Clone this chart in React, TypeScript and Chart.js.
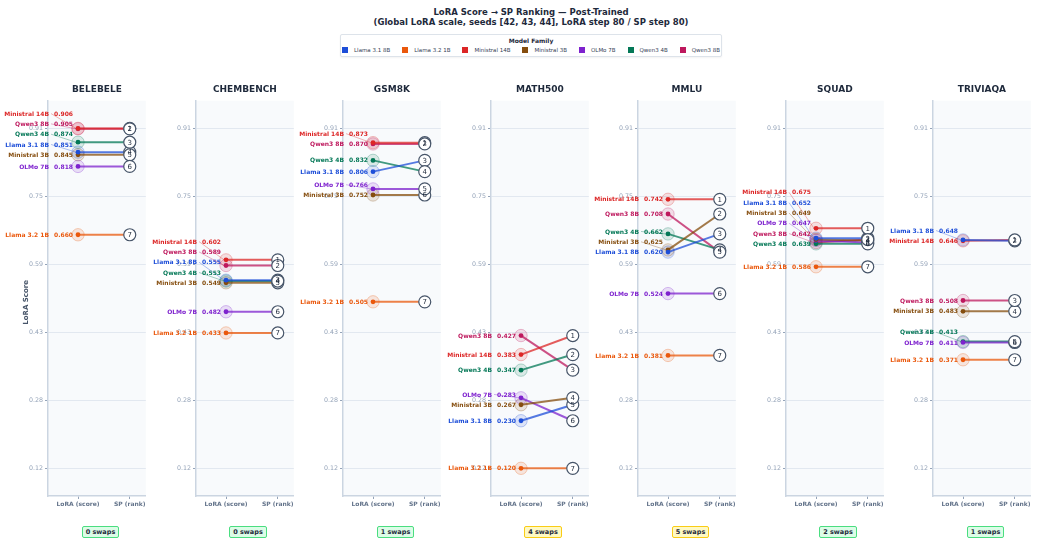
import React, { useEffect, useRef } from 'react';
import { Chart, registerables } from 'chart.js';

Chart.register(...registerables);
Chart.defaults.font.family = '"DejaVu Sans", sans-serif';

// ---------------- DATA ----------------
const benchmarks = ['BELEBELE', 'CHEMBENCH', 'GSM8K', 'MATH500', 'MMLU', 'SQUAD', 'TRIVIAQA'];
const models = ['Llama 3.1 8B', 'Llama 3.2 1B', 'Ministral 14B', 'Ministral 3B', 'OLMo 7B', 'Qwen3 4B', 'Qwen3 8B'];
const modelColors = ['#1d4ed8', '#ea580c', '#dc2626', '#854d0e', '#7e22ce', '#047857', '#be185d'];

// LoRA scores (model order as in `models`)
const belebeleScores = [0.851, 0.660, 0.906, 0.845, 0.818, 0.874, 0.905];
const chembenchScores = [0.555, 0.433, 0.602, 0.549, 0.482, 0.553, 0.589];
const gsm8kScores = [0.806, 0.505, 0.873, 0.752, 0.766, 0.832, 0.870];
const math500Scores = [0.230, 0.120, 0.383, 0.267, 0.283, 0.347, 0.427];
const mmluScores = [0.620, 0.381, 0.742, 0.625, 0.524, 0.662, 0.708];
const squadScores = [0.652, 0.586, 0.675, 0.649, 0.647, 0.639, 0.642];
const triviaqaScores = [0.648, 0.371, 0.646, 0.483, 0.411, 0.413, 0.508];

// SP ranks (model order as in `models`)
const belebeleRanks = [4, 7, 1, 5, 6, 3, 2];
const chembenchRanks = [3, 7, 1, 5, 6, 4, 2];
const gsm8kRanks = [3, 7, 1, 6, 5, 4, 2];
const math500Ranks = [5, 7, 1, 4, 6, 2, 3];
const mmluRanks = [3, 7, 1, 2, 6, 4, 5];
const squadRanks = [2, 7, 1, 4, 5, 6, 3];
const triviaqaRanks = [2, 7, 1, 4, 6, 5, 3];

const swapCounts = [0, 0, 1, 4, 5, 2, 1];

const yTickValues = [0.12, 0.2772, 0.4344, 0.5916, 0.7488, 0.906];
const yTickLabels = ['0.12', '0.28', '0.43', '0.59', '0.75', '0.91'];
const xTickLabels = ['LoRA (score)', 'SP (rank)'];

const loraScores = [belebeleScores, chembenchScores, gsm8kScores, math500Scores, mmluScores, squadScores, triviaqaScores];
const spRanks = [belebeleRanks, chembenchRanks, gsm8kRanks, math500Ranks, mmluRanks, squadRanks, triviaqaRanks];

// ---------------- LAYOUT ----------------
const Y_MIN = 0.056;
const Y_MAX = 0.970;
const X_MIN = -0.58;
const X_MAX = 1.31;
const LABEL_GAP = 0.0238;
const PANEL_LEFT0 = 48;
const PANEL_PITCH = 147.5;
const AXIS_W = 48;
const CANVAS_W = 153;
const CANVAS_H = 436;
const CANVAS_TOP = 80;
const FONT = '"DejaVu Sans", sans-serif';

function rgba(hex: string, a: number) {
  const n = parseInt(hex.slice(1), 16);
  return `rgba(${(n >> 16) & 255},${(n >> 8) & 255},${n & 255},${a})`;
}

function rankPositions(scores: number[]) {
  return [...scores].sort((a, b) => b - a);
}

const panelPlugin = {
  id: 'panelDecor',
  beforeDraw(chart: any) {
    const { ctx, chartArea } = chart;
    ctx.save();
    ctx.fillStyle = '#f8fafc';
    ctx.fillRect(chartArea.left, chartArea.top, chartArea.right - chartArea.left, chartArea.bottom - chartArea.top);
    ctx.restore();
  },
  beforeDatasetsDraw(chart: any, _args: any, opts: any) {
    const idx = opts.index;
    const { ctx, scales } = chart;
    const scores = loraScores[idx];
    const px0 = scales.x.getPixelForValue(0);
    ctx.save();
    scores.forEach((s: number, i: number) => {
      const py = scales.y.getPixelForValue(s);
      ctx.beginPath();
      ctx.arc(px0, py, 6.2, 0, Math.PI * 2);
      ctx.fillStyle = rgba(modelColors[i], 0.13);
      ctx.fill();
      ctx.lineWidth = 1;
      ctx.strokeStyle = rgba(modelColors[i], 0.28);
      ctx.stroke();
    });
    ctx.restore();
  },
  afterDatasetsDraw(chart: any, _args: any, opts: any) {
    const idx = opts.index;
    const { ctx, chartArea, scales } = chart;
    const x = scales.x;
    const y = scales.y;
    const scores = loraScores[idx];
    const ranks = spRanks[idx];
    const pos = rankPositions(scores);
    const px0 = x.getPixelForValue(0);
    const px1 = x.getPixelForValue(1);

    // label positions (de-overlapped, bottom-up)
    const order = scores.map((_: number, i: number) => i).sort((a: number, b: number) => scores[a] - scores[b]);
    const labelVals: number[] = [];
    let prev = -Infinity;
    for (const i of order) {
      const v = Math.max(scores[i], prev + LABEL_GAP);
      labelVals[i] = v;
      prev = v;
    }

    ctx.save();
    ctx.font = `bold 6px ${FONT}`;
    ctx.textBaseline = 'middle';
    scores.forEach((s: number, i: number) => {
      const ly = y.getPixelForValue(labelVals[i]);
      const py = y.getPixelForValue(s);
      const valStr = s.toFixed(3);
      const valRight = px0 - 5;
      const valW = ctx.measureText(valStr).width;
      const valLeft = valRight - valW;
      if (Math.abs(ly - py) > 0.5) {
        ctx.beginPath();
        ctx.moveTo(valLeft - 3, ly);
        ctx.lineTo(px0 - 2, py);
        ctx.lineWidth = 0.7;
        ctx.strokeStyle = rgba(modelColors[i], 0.5);
        ctx.stroke();
      }
      ctx.fillStyle = modelColors[i];
      ctx.textAlign = 'right';
      ctx.fillText(valStr, valRight, ly + 0.5);
      ctx.fillText(models[i], valLeft - 5, ly + 0.5);
    });

    // rank numbers
    ctx.font = `7px ${FONT}`;
    ctx.fillStyle = '#1e293b';
    ctx.textAlign = 'center';
    ranks.forEach((r: number) => {
      ctx.fillText(String(r), px1, y.getPixelForValue(pos[r - 1]) + 0.5);
    });

    // panel title
    ctx.font = `bold 9px ${FONT}`;
    ctx.fillStyle = '#1e293b';
    ctx.fillText(benchmarks[idx], (chartArea.left + chartArea.right) / 2, 10);

    // y-axis title
    if (idx === 0) {
      ctx.translate(26, (chartArea.top + chartArea.bottom) / 2 + 4);
      ctx.rotate(-Math.PI / 2);
      ctx.font = `bold 7px ${FONT}`;
      ctx.fillStyle = '#475569';
      ctx.fillText('LoRA Score', 0, 0);
    }
    ctx.restore();
  },
};

function Panel({ index }: { index: number }) {
  const ref = useRef<HTMLCanvasElement>(null);
  useEffect(() => {
    if (!ref.current) return;
    const scores = loraScores[index];
    const ranks = spRanks[index];
    const pos = rankPositions(scores);
    const lineDatasets = models.map((m, i) => ({
      type: 'line',
      label: m,
      data: [
        { x: 0, y: scores[i] },
        { x: 1, y: pos[ranks[i] - 1] },
      ],
      borderColor: rgba(modelColors[i], 0.75),
      borderWidth: 2,
      pointRadius: [2.4, 0],
      pointHoverRadius: [2.4, 0],
      pointBackgroundColor: modelColors[i],
      pointBorderWidth: 0,
      tension: 0,
      order: 1,
    }));
    const rankDataset = {
      type: 'scatter',
      label: 'SP rank',
      data: ranks.map((r) => ({ x: 1, y: pos[r - 1] })),
      pointRadius: 6,
      pointHoverRadius: 6,
      pointBackgroundColor: '#ffffff',
      pointBorderColor: '#475569',
      pointBorderWidth: 1.2,
      order: 0,
    };
    const chart = new Chart(ref.current, {
      type: 'line',
      data: { datasets: [...lineDatasets, rankDataset] as any },
      plugins: [panelPlugin],
      options: {
        animation: false,
        responsive: false,
        devicePixelRatio: 1,
        events: [],
        layout: { padding: { top: 20.7, right: 0, bottom: 0, left: 0 } },
        plugins: {
          legend: { display: false },
          tooltip: { enabled: false },
          title: { display: false },
          panelDecor: { index },
        } as any,
        scales: {
          x: {
            type: 'linear',
            min: X_MIN,
            max: X_MAX,
            afterBuildTicks: (s: any) => {
              s.ticks = [{ value: 0 }, { value: 1 }];
            },
            afterFit: (s: any) => {
              s.height = 20;
            },
            ticks: {
              callback: (v: any) => (v === 0 ? xTickLabels[0] : xTickLabels[1]),
              font: { size: 6, weight: 'bold' },
              color: '#64748b',
              padding: 2,
              maxRotation: 0,
              autoSkip: false,
            },
            grid: { drawOnChartArea: false, drawTicks: true, tickLength: 3, tickColor: '#94a3b8' },
            border: { color: '#cbd5e1', width: 1.5 },
          },
          y: {
            type: 'linear',
            min: Y_MIN,
            max: Y_MAX,
            afterBuildTicks: (s: any) => {
              s.ticks = yTickValues.map((v) => ({ value: v }));
            },
            afterFit: (s: any) => {
              s.width = AXIS_W;
            },
            ticks: {
              callback: (_v: any, i: number) => yTickLabels[i],
              font: { size: 6.3 },
              color: '#94a3b8',
              padding: 2,
              autoSkip: false,
            },
            grid: { color: '#e2e8f0', lineWidth: 1, drawTicks: true, tickLength: 3, tickColor: '#94a3b8' },
            border: { color: '#cbd5e1', width: 1.5 },
          },
        } as any,
      },
    } as any);
    return () => chart.destroy();
  }, [index]);
  const left = PANEL_LEFT0 + PANEL_PITCH * index;
  return (
    <canvas
      ref={ref}
      width={CANVAS_W}
      height={CANVAS_H}
      style={{ position: 'absolute', left: left - AXIS_W, top: CANVAS_TOP, width: CANVAS_W, height: CANVAS_H }}
    />
  );
}

function Badge({ index }: { index: number }) {
  const left = PANEL_LEFT0 + PANEL_PITCH * index;
  const n = swapCounts[index];
  const warn = n >= 3;
  return (
    <div style={{ position: 'absolute', left, top: 518.5, width: 105, textAlign: 'center' }}>
      <span
        style={{
          display: 'inline-block',
          fontSize: 6.5,
          fontWeight: 'bold',
          lineHeight: '10px',
          padding: '0 3px',
          border: `1px solid ${warn ? '#facc15' : '#4ade80'}`,
          background: warn ? '#fef9c3' : '#dcfce7',
          borderRadius: 2,
          color: '#1e293b',
        }}
      >
        {n} swaps
      </span>
    </div>
  );
}

export default function App() {
  return (
    <div
      style={{
        position: 'absolute',
        left: 0,
        top: 0,
        width: 1038,
        height: 538,
        background: '#ffffff',
        fontFamily: FONT,
        overflow: 'hidden',
      }}
    >
      <div
        style={{
          position: 'absolute',
          left: 281,
          top: 7,
          width: 500,
          textAlign: 'center',
          fontSize: 8.5,
          fontWeight: 'bold',
          lineHeight: '10.4px',
          color: '#1e293b',
        }}
      >
        <div>LoRA Score → SP Ranking — Post-Trained</div>
        <div>(Global LoRA scale, seeds [42, 43, 44], LoRA step 80 / SP step 80)</div>
      </div>
      <div
        style={{
          position: 'absolute',
          left: 340,
          top: 34.3,
          width: 382,
          height: 23,
          boxSizing: 'border-box',
          border: '1px solid #dde3ea',
          borderRadius: 2,
          background: '#ffffff',
          boxShadow: '0 1px 2px rgba(0,0,0,0.05)',
        }}
      >
        <div
          style={{
            position: 'absolute',
            left: 0,
            right: 0,
            top: 2,
            textAlign: 'center',
            fontSize: 6,
            fontWeight: 'bold',
            lineHeight: '8px',
            color: '#1e293b',
          }}
        >
          Model Family
        </div>
        <div
          style={{
            position: 'absolute',
            left: 0,
            right: 0,
            top: 11,
            height: 8,
            display: 'flex',
            justifyContent: 'center',
            alignItems: 'center',
            gap: 12,
          }}
        >
          {models.map((m, i) => (
            <div key={m} style={{ display: 'flex', alignItems: 'center' }}>
              <span style={{ display: 'inline-block', width: 6, height: 6, background: modelColors[i], marginRight: 6 }} />
              <span style={{ fontSize: 5.5, lineHeight: '8px', color: '#334155', whiteSpace: 'nowrap' }}>{m}</span>
            </div>
          ))}
        </div>
      </div>
      {benchmarks.map((b, i) => (
        <Panel key={b} index={i} />
      ))}
      {benchmarks.map((b, i) => (
        <Badge key={b + '-badge'} index={i} />
      ))}
    </div>
  );
}
